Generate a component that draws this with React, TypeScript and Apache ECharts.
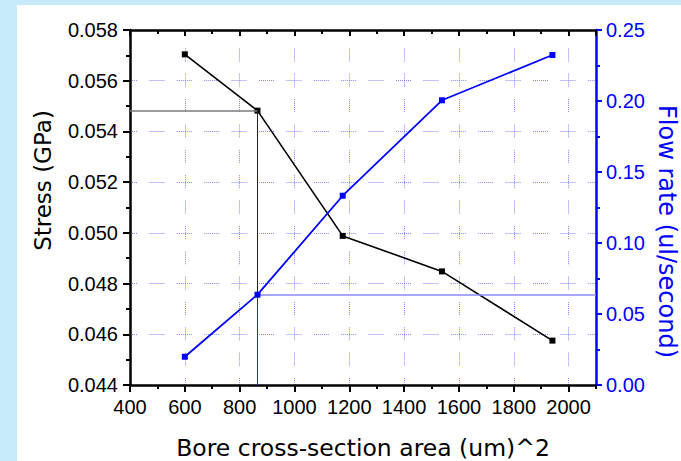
import React, { useEffect, useRef } from 'react';
import * as echarts from 'echarts';

// Data
const areas = [600, 865, 1176, 1538, 1941];
const stress = [0.05704, 0.05482, 0.04988, 0.04848, 0.04575];
const flowRate = [0.0199, 0.0636, 0.1333, 0.2005, 0.2324];

const xMin = 400;
const xMax = 2100;
const xStep = 200;
const stressMin = 0.044;
const stressMax = 0.058;
const stressStep = 0.002;
const flowMin = 0;
const flowMax = 0.25;
const flowStep = 0.05;

const xTitle = 'Bore cross-section area (um)^2';
const leftTitle = 'Stress (GPa)';
const rightTitle = 'Flow rate (ul/second)';

const FONT = '"Liberation Sans", Arial, sans-serif';
const TITLE_FONT = '"DejaVu Sans", "Liberation Sans", sans-serif';
const GRID_COLOR = '#8585ff';

function dots(n: number, gap: number) {
  const a: number[] = [];
  for (let i = 0; i < n; i++) {
    a.push(1);
    a.push(i === n - 1 ? gap : 1);
  }
  return a;
}

export default function App() {
  const ref = useRef<HTMLDivElement>(null);
  useEffect(() => {
    if (!ref.current) return;
    const chart = echarts.init(ref.current, undefined, { renderer: 'svg' });
    const black = areas.map((x, i) => [x, stress[i]]);
    const blue = areas.map((x, i) => [x, flowRate[i]]);
    const refX = areas[1];
    const option: any = {
      animation: false,
      backgroundColor: 'transparent',
      grid: { left: 130, right: 85, top: 30, bottom: 76, containLabel: false, outerBoundsMode: 'none' },
      xAxis: [
        {
          type: 'value', position: 'bottom', min: xMin, max: xMax, interval: xStep,
          name: xTitle, nameLocation: 'middle', nameGap: 51, nameMoveOverlap: false,
          nameTextStyle: { fontSize: 23.5, color: '#000', fontFamily: TITLE_FONT },
          axisLine: { show: true, lineStyle: { color: '#000', width: 2.5 } },
          axisTick: { show: true, inside: false, length: 7, lineStyle: { color: '#000', width: 2 } },
          axisLabel: { show: true, margin: 12, fontSize: 20, color: '#000', fontFamily: FONT, showMaxLabel: false, formatter: (v: number) => String(v) },
          splitLine: { show: true, lineStyle: { color: GRID_COLOR, width: 1, type: dots(7, 12.36), dashOffset: 6.5 } },
        },
        {
          type: 'value', position: 'bottom', min: xMin, max: xMax, interval: xStep / 2,
          axisLine: { show: false }, axisLabel: { show: false }, splitLine: { show: false },
          axisTick: { show: true, inside: false, length: 4, lineStyle: { color: '#000', width: 2 } },
        },
        {
          type: 'value', position: 'top', min: xMin, max: xMax, interval: xStep,
          axisLine: { show: true, lineStyle: { color: '#000', width: 2.5 } },
          axisLabel: { show: false }, splitLine: { show: false },
          axisTick: { show: true, inside: true, length: 6, lineStyle: { color: '#000', width: 2 } },
        },
        {
          type: 'value', position: 'top', min: xMin, max: xMax, interval: xStep / 2,
          axisLine: { show: false }, axisLabel: { show: false }, splitLine: { show: false },
          axisTick: { show: true, inside: true, length: 4, lineStyle: { color: '#000', width: 2 } },
        },
      ],
      yAxis: [
        {
          type: 'value', position: 'left', min: stressMin, max: stressMax, interval: stressStep,
          name: leftTitle, nameLocation: 'middle', nameGap: 76, nameMoveOverlap: false,
          nameTextStyle: { fontSize: 23, color: '#000', fontFamily: TITLE_FONT, padding: [0, 0, 0, 54] },
          axisLine: { show: true, lineStyle: { color: '#000', width: 2.5 } },
          axisTick: { show: true, inside: false, length: 7, lineStyle: { color: '#000', width: 2 } },
          minorTick: { show: true, splitNumber: 2, length: 4, lineStyle: { color: '#000', width: 2 } },
          axisLabel: { margin: 12, fontSize: 20, color: '#000', fontFamily: FONT, formatter: (v: number) => v.toFixed(3) },
          splitLine: { show: true, lineStyle: { color: GRID_COLOR, width: 1, type: dots(8, 12.4), dashOffset: 7.5 } },
        },
        {
          type: 'value', position: 'right', min: flowMin, max: flowMax, interval: flowStep,
          name: rightTitle, nameLocation: 'middle', nameGap: 59, nameRotate: -90, nameMoveOverlap: false,
          nameTextStyle: { fontSize: 24, color: '#0000ff', fontFamily: TITLE_FONT, padding: [0, 0, 0, 48] },
          axisLine: { show: true, lineStyle: { color: '#0000ff', width: 2.5 } },
          axisTick: { show: true, inside: false, length: 6, lineStyle: { color: '#0000ff', width: 2 } },
          minorTick: { show: true, splitNumber: 2, length: 4, lineStyle: { color: '#0000ff', width: 2 } },
          axisLabel: { margin: 10, fontSize: 20, color: '#0000ff', fontFamily: FONT, formatter: (v: number) => v.toFixed(2) },
          splitLine: { show: false },
        },
      ],
      series: [
        {
          name: 'Stress', type: 'line', xAxisIndex: 0, yAxisIndex: 0, data: black,
          symbol: 'rect', symbolSize: 6, showSymbol: true,
          itemStyle: { color: '#000' }, lineStyle: { color: '#000', width: 1.6 }, z: 4,
          markLine: {
            silent: true, symbol: 'none', label: { show: false }, animation: false,
            data: [
              [{ coord: [xMin, stress[1]], lineStyle: { color: '#7a7a7a', width: 1.6, type: 'solid' } }, { coord: [refX, stress[1]] }],
              [{ coord: [refX, stress[1]], lineStyle: { color: '#202020', width: 1, type: 'solid' } }, { coord: [refX, stressMin] }],
            ],
          },
        },
        {
          name: 'Flow rate', type: 'line', xAxisIndex: 0, yAxisIndex: 1, data: blue,
          symbol: 'rect', symbolSize: 6, showSymbol: true,
          itemStyle: { color: '#0000ff' }, lineStyle: { color: '#0000ff', width: 1.8 }, z: 5,
          markLine: {
            silent: true, symbol: 'none', label: { show: false }, animation: false,
            data: [
              [{ coord: [refX, flowRate[1]], lineStyle: { color: '#2222ff', width: 1, type: 'solid' } }, { coord: [refX, flowMin] }],
              [{ coord: [refX, flowRate[1]], lineStyle: { color: '#8a8aff', width: 1.6, type: 'solid' } }, { coord: [xMax, flowRate[1]] }],
            ],
          },
        },
      ],
    };
    chart.setOption(option);
    return () => chart.dispose();
  }, []);
  return (
    <div style={{ position: 'absolute', left: 0, top: 0, width: 681, height: 461, background: '#c6eaf9', overflow: 'hidden' }}>
      <div style={{ position: 'absolute', left: 17, top: 5, width: 664, height: 456, background: '#ffffff' }} />
      <div ref={ref} style={{ position: 'absolute', left: 0, top: 0, width: 681, height: 461 }} />
    </div>
  );
}
